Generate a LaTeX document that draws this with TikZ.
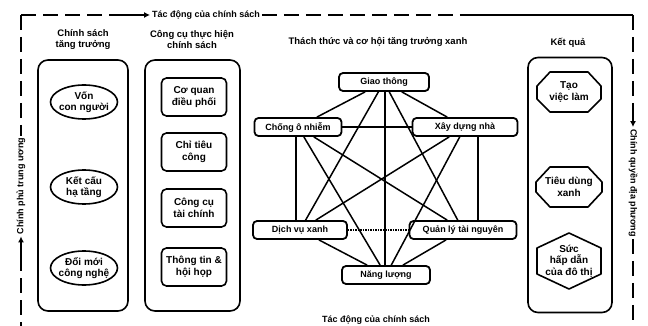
\documentclass[tikz,border=0pt]{standalone}
\usepackage{fontspec}
\setmainfont{Liberation Sans}
\usetikzlibrary{arrows.meta,calc,shapes.geometric}
\begin{document}
\begin{tikzpicture}[x=1pt,y=-1pt,
  lbl/.style={font=\bfseries\fontsize{10}{11.5}\selectfont, align=center, inner sep=1pt},
  glbl/.style={font=\bfseries\fontsize{9}{10}\selectfont, align=center, inner sep=1pt},
  hdr/.style={font=\bfseries\fontsize{9.5}{11}\selectfont, align=center, inner sep=1pt},
  colbox/.style={draw, line width=1.6pt, rounded corners=10pt, minimum width=#1, inner sep=0pt},
  oval/.style={ellipse, draw, line width=1.6pt, minimum width=67pt, minimum height=34pt, lbl, inner sep=-3pt},
  rbox/.style={draw, line width=1.6pt, rounded corners=5pt, minimum width=65pt, minimum height=38pt, lbl},
  gbox/.style={draw, line width=1.8pt, rounded corners=4pt, fill=white, minimum height=18pt, glbl, minimum width=#1},
  link/.style={line width=1.5pt},
  framed/.style={line width=2pt, dash pattern=on 15pt off 7pt},
  frames/.style={line width=2pt},
  hexl/.style={draw, line width=1.6pt, line join=round},
  side/.style={font=\bfseries\fontsize{9}{10}\selectfont, inner sep=2pt},
]
\useasboundingbox (0,0) rectangle (648,326);

% ---------- outer frame with flow labels ----------
\coordinate (tl) at (21,15);
\coordinate (tr) at (633,15);
\coordinate (bl) at (21,330);
\coordinate (br) at (633,330);
\node[side] (ttop) at (206,15) {Tác động của chính sách};
\node[side] (tbot) at (376,320) {Tác động của chính sách};
\node[side, rotate=90] (tleft) at (21,186) {Chính phủ trung ương};
\node[side, rotate=-90] (tright) at (633,183) {Chính quyền địa phương};
\coordinate (ta) at (120,15);
\coordinate (tm) at (462,15);
\coordinate (ra) at (633,114);
\coordinate (la) at (21,256);

\draw[framed] (tl) -- (ta);
\draw[frames,-{Latex[length=6pt,width=6pt]}] (ta) -- (ttop.west);
\draw[framed] (ttop.east) -- (tm);
\draw[line width=1.2pt] (tm) -- (tr);
\draw[framed] (tr) -- (ra);
\draw[frames,-{Latex[length=6pt,width=6pt]}] (ra) -- (tright.west);
\draw[framed] (tright.east) -- (br);
\draw[framed] (tl) -- (tleft.east);
\draw[frames,-{Latex[length=6pt,width=6pt]}] (la) -- (tleft.west);
\draw[framed] (la) -- (bl);

% ---------- headers ----------
\node[hdr] (h1) at (83,40) {Chính sách\\tăng trưởng};
\node[hdr] (h2) at (192,40) {Công cụ thực hiện\\chính sách};
\node[hdr] (h3) at (378,42) {Thách thức và cơ hội tăng trưởng xanh};
\node[hdr] (h4) at (568,43) {Kết quả};

% ---------- column 1 ----------
\node[colbox=90pt, minimum height=251pt] (c1) at (83,185.5) {};
\node[oval] (e1) at (84,102) {Vốn\\con người};
\node[oval] (e2) at (84,187) {Kết cấu\\hạ tầng};
\node[oval] (e3) at (84,268) {Đổi mới\\công nghệ};

% ---------- column 2 ----------
\node[colbox=95pt, minimum height=251pt] (c2) at (192.5,185.5) {};
\node[rbox] (r1) at (194,97) {Cơ quan\\điều phối};
\node[rbox] (r2) at (194,152) {Chỉ tiêu\\công};
\node[rbox] (r3) at (194,208) {Công cụ\\tài chính};
\node[rbox] (r4) at (194,267) {Thông tin \&\\hội họp};

% ---------- graph ----------
\node[gbox=90pt] (G) at (384,82) {Giao thông};
\node[gbox=87pt] (C) at (298,127) {Chống ô nhiễm};
\node[gbox=105pt] (X) at (465,127) {Xây dựng nhà};
\node[gbox=94pt] (D) at (300,230) {Dịch vụ xanh};
\node[gbox=107pt] (Q) at (463,230) {Quản lý tài nguyên};
\node[gbox=88pt] (N) at (386,275) {Năng lượng};
\coordinate (vl) at (296,0);
\coordinate (vr) at (478,0);
\coordinate (vm) at (385,0);
\draw[link] (G) -- (C);
\draw[link] (G) -- (X);
\draw[link] (G) -- (D);
\draw[link] (G) -- (Q);
\draw[link] (G.south -| vm) -- (N.north -| vm);
\draw[link] (C) -- (X);
\draw[link] (C.south -| vl) -- (D.north -| vl);
\draw[link] (C) -- (N);
\draw[link] (C) -- (Q);
\draw[link] (X.south -| vr) -- (Q.north -| vr);
\draw[link] (X) -- (D);
\draw[link] (X) -- (N);
\draw[link, densely dotted] (D) -- (Q);
\draw[link] (D) -- (N);
\draw[link] (Q) -- (N);

% ---------- results column ----------
\node[colbox=84pt, minimum height=255pt] (c4) at (570,185) {};
\node[lbl] (k1) at (569,92) {Tạo\\việc làm};
\node[lbl] (k2) at (569,187) {Tiêu dùng\\xanh};
\node[lbl] (k3) at (569,261) {Sức\\hấp dẫn\\của đô thị};
\draw[hexl] (550,72) -- (588,72) -- (601,86) -- (601,99) -- (588,112) -- (550,112) -- (537,99) -- (537,86) -- cycle;
\draw[hexl] (550,167) -- (588,167) -- (602,182) -- (602,192) -- (588,207) -- (550,207) -- (536,192) -- (536,182) -- cycle;
\draw[hexl] (569,233) -- (601,248) -- (601,274) -- (569,289) -- (537,274) -- (537,248) -- cycle;
\end{tikzpicture}
\end{document}
